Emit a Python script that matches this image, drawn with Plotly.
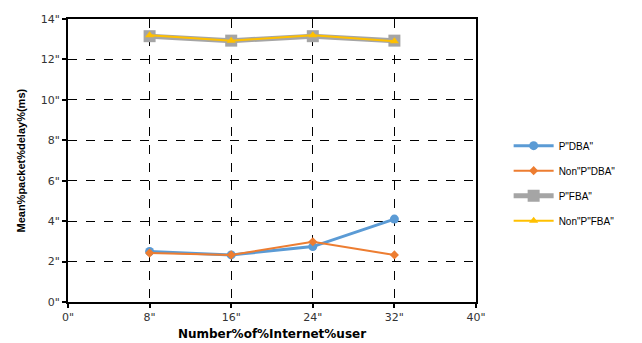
import plotly.graph_objects as go

users = [8, 16, 24, 32]
p_dba = [2.5, 2.33, 2.74, 4.1]
non_p_dba = [2.42, 2.33, 2.98, 2.33]
p_fba = [13.15, 12.93, 13.15, 12.93]
non_p_fba = [13.2, 12.92, 13.2, 12.9]

series_names = ['P"DBA"', 'Non"P"DBA"', 'P"FBA"', 'Non"P"FBA"']
x_ticks = [0, 8, 16, 24, 32, 40]
x_tick_text = ['0"', '8"', '16"', '24"', '32"', '40"']
y_ticks = [0, 2, 4, 6, 8, 10, 12, 14]
y_tick_text = ['0"', '2"', '4"', '6"', '8"', '10"', '12"', '14"']

fig = go.Figure()
styles = [
    dict(color="#5B9BD5", width=3, symbol="circle", size=9),
    dict(color="#ED7D31", width=2, symbol="diamond", size=7),
    dict(color="#A5A5A5", width=5, symbol="square", size=12),
    dict(color="#FFC000", width=2, symbol="triangle-up", size=8),
]
for i, (name, vals) in enumerate(zip(series_names, [p_dba, non_p_dba, p_fba, non_p_fba])):
    s = styles[i]
    fig.add_trace(go.Scatter(
        x=users, y=vals, name=name, mode="lines+markers",
        line=dict(color=s["color"], width=s["width"]),
        marker=dict(color=s["color"], symbol=s["symbol"], size=s["size"]),
        legendgroup=f"g{i}",
    ))

axis_common = dict(
    showline=True, mirror=True, linecolor="black", linewidth=2,
    showgrid=True, gridcolor="black", gridwidth=1, griddash="dash",
    ticks="outside", ticklen=4, tickcolor="black", tickwidth=2,
    zeroline=False, automargin=False,
    tickfont=dict(family="DejaVu Sans", size=11, color="#333"),
)

plot_w = 642 - 60 - 174
fig.update_layout(
    width=642, height=343,
    margin=dict(l=60, r=174, t=11, b=49),
    paper_bgcolor="white", plot_bgcolor="white",
    showlegend=True,
    legend=dict(x=1.08, xanchor="left", y=0.42, yanchor="middle",
                font=dict(family="Liberation Sans", size=10, color="black"),
                tracegroupgap=6, itemwidth=40),
    xaxis=dict(range=[0, 40], tickvals=x_ticks, ticktext=x_tick_text,
               title=dict(text='<b>Number%of%Internet%user</b>', standoff=6,
                          font=dict(family="DejaVu Sans", size=12, color="black")),
               **axis_common),
    yaxis=dict(range=[0, 14], tickvals=y_ticks, ticktext=y_tick_text,
               **axis_common),
    annotations=[dict(
        text='<b>Mean%packet%delay%(ms)</b>', textangle=-90,
        xref="paper", yref="paper", x=-(60 - 12) / plot_w, y=0.5,
        xanchor="center", yanchor="middle", showarrow=False,
        font=dict(family="Liberation Sans Narrow, Liberation Sans", size=11, color="black"),
    )],
)

fig.write_html("out.html")
